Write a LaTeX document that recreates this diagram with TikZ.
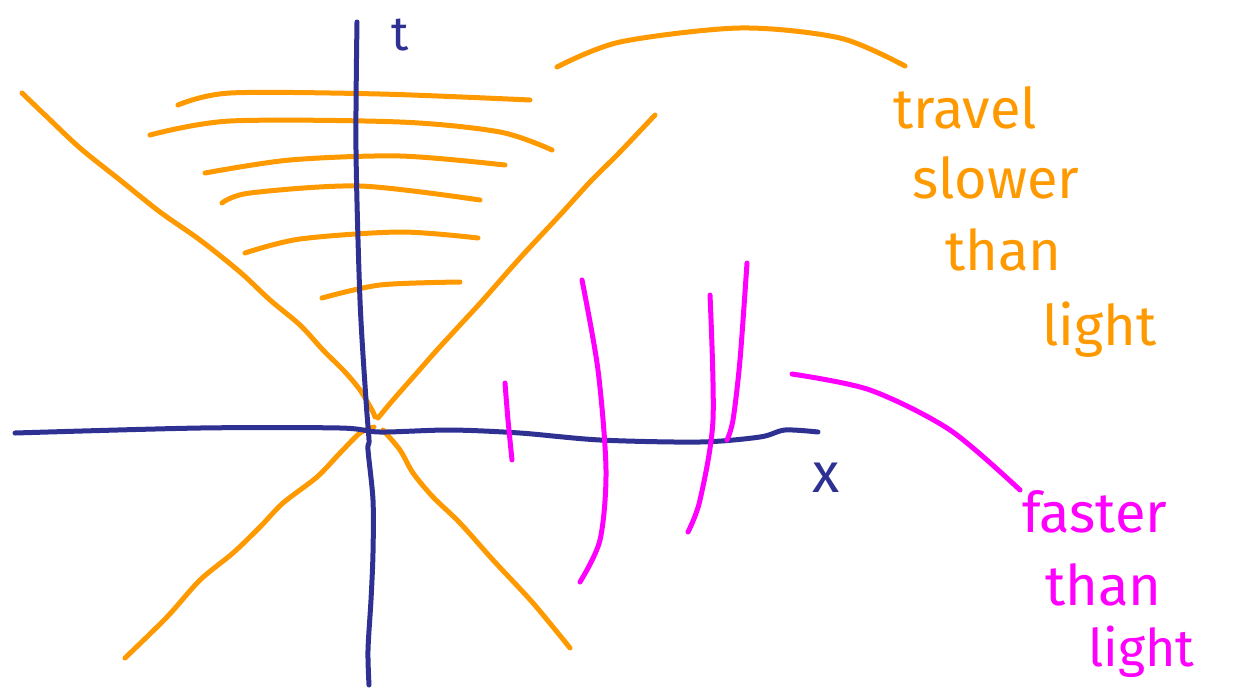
\documentclass[tikz,border=0pt]{standalone}
\usepackage{fontspec}
\setmainfont{Fira Sans}
\definecolor{pen}{RGB}{255,153,0}
\definecolor{axis}{RGB}{46,49,146}
\definecolor{mag}{RGB}{255,0,255}
\tikzset{
  stroke/.style={line width=5pt, line cap=round, line join=round},
  orange/.style={stroke, draw=pen},
  axisline/.style={stroke, draw=axis},
  magline/.style={stroke, draw=mag},
  hand/.style={inner sep=0pt, font=\fontsize{56}{60}\selectfont},
}
\begin{document}
\begin{tikzpicture}[x=1pt,y=-1pt]
\useasboundingbox (0,0) rectangle (1245,691);
% light cone diagonals (four strokes, meeting near the origin)
\draw[orange] plot[smooth] coordinates {(22,93) (45,115) (80,148) (120,180) (160,212) (200,240) (240,272) (270,300) (300,325) (323,350) (345,372) (360,390) (372,410) (375,417)};
\draw[orange] plot[smooth] coordinates {(655,115) (620,152) (590,182) (560,215) (520,258) (483,300) (460,325) (437,350) (415,375) (393,400) (378,418)};
\draw[orange] plot[smooth] coordinates {(374,427) (360,433) (340,453) (317,477) (283,503) (260,527) (233,553) (200,580) (167,617) (125,658)};
\draw[orange] plot[smooth] coordinates {(383,430) (400,450) (413,473) (433,497) (460,523) (493,560) (533,603) (570,648)};
% slower-than-light worldlines
\draw[orange] plot[smooth] coordinates {(178,105) (230,93) (380,94) (530,100)};
\draw[orange] plot[smooth] coordinates {(150,135) (230,121) (400,122) (500,132) (552,150)};
\draw[orange] plot[smooth] coordinates {(205,173) (290,160) (400,156) (505,165)};
\draw[orange] plot[smooth] coordinates {(222,203) (250,193) (360,186) (480,200)};
\draw[orange] plot[smooth] coordinates {(245,253) (300,239) (400,232) (478,238)};
\draw[orange] plot[smooth] coordinates {(322,298) (380,285) (460,282)};
% orange connector
\draw[orange] plot[smooth] coordinates {(557,67) (620,42) (740,28) (840,38) (905,66)};
% axes
\draw[axisline] plot[smooth] coordinates {(357,22) (356,150) (360,300) (366,400) (369,440) (368,450) (373,500) (373,553) (371,600) (368,650) (369,685)};
\draw[axisline] plot[smooth] coordinates {(15,433) (200,428) (340,428) (380,432) (450,430) (520,433) (600,440) (700,442) (760,437) (785,430) (818,432)};
% axis labels
\node[hand, text=axis, font=\fontsize{48}{50}\selectfont] (tlabel) at (400,35) {t};
\node[hand, text=axis, font=\fontsize{56}{60}\selectfont] (xlabel) at (826,478) {x};
% faster-than-light worldlines
\draw[magline] plot[smooth] coordinates {(505,383) (508,420) (512,460)};
\draw[magline] plot[smooth] coordinates {(582,280) (598,370) (606,470) (600,540) (580,582)};
\draw[magline] plot[smooth] coordinates {(710,295) (713,420) (700,500) (688,532)};
\draw[magline] plot[smooth] coordinates {(747,263) (740,360) (733,420) (727,440)};
\draw[magline] plot[smooth] coordinates {(792,374) (870,390) (950,430) (1020,490)};
% labels
\node[hand, text=pen, anchor=base west] (t1) at (893,128) {travel};
\node[hand, text=pen, anchor=base west] (t2) at (912,198) {slower};
\node[hand, text=pen, anchor=base west] (t3) at (945,270) {than};
\node[hand, text=pen, anchor=base west] (t4) at (1042,345) {light};
\node[hand, text=mag, anchor=base west] (f1) at (1022,532) {faster};
\node[hand, text=mag, anchor=base west] (f2) at (1045,605) {than};
\node[hand, text=mag, anchor=base west, font=\fontsize{52}{56}\selectfont] (f3) at (1088,666) {light};
\end{tikzpicture}
\end{document}
